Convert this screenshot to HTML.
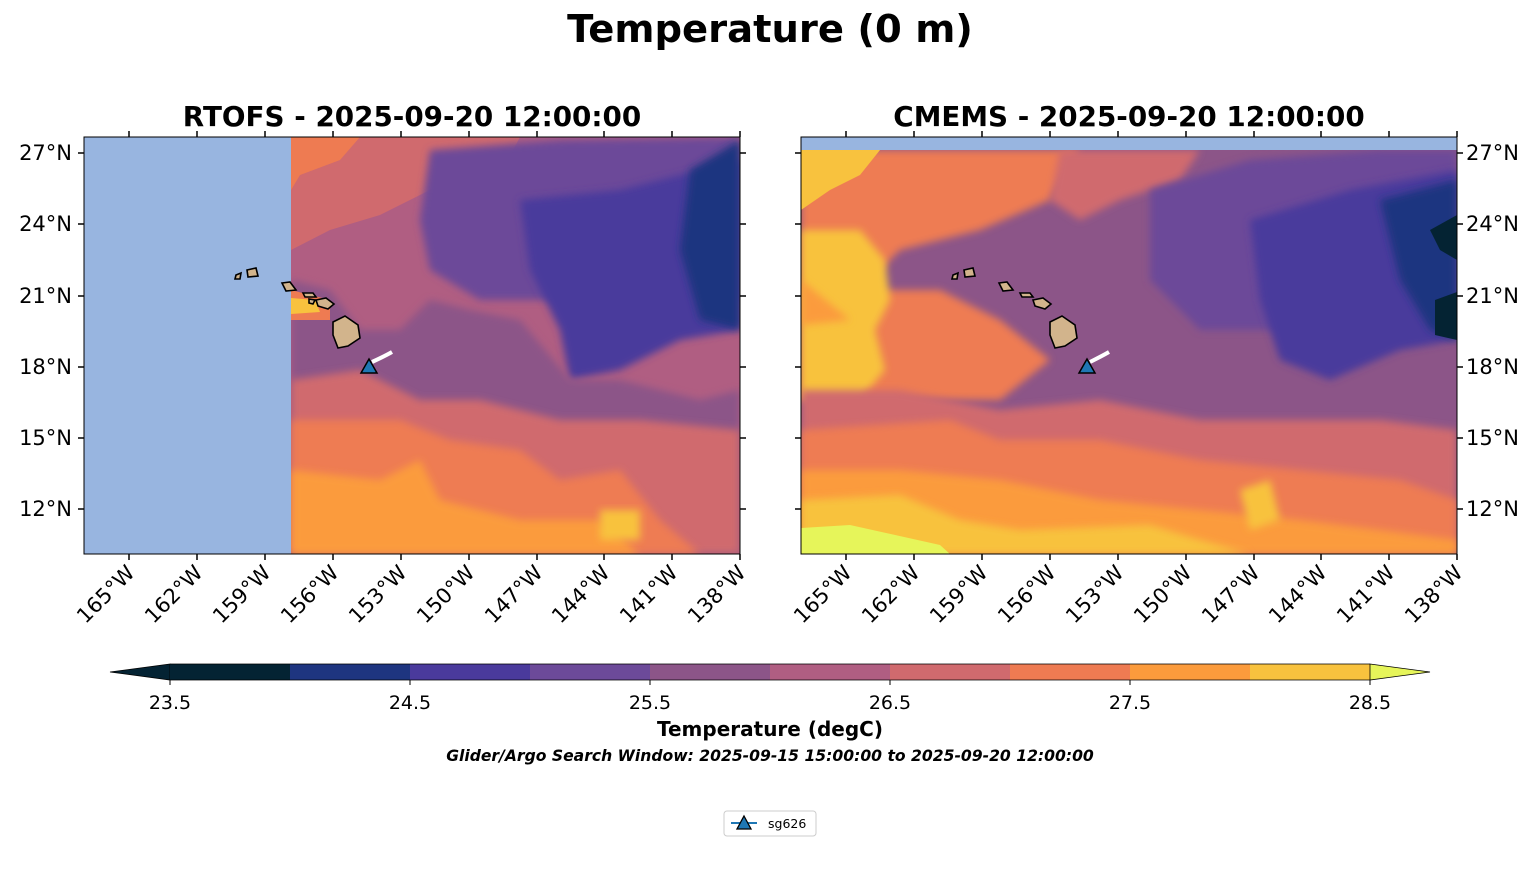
<!DOCTYPE html>
<html><head><meta charset="utf-8"><style>
body{margin:0;background:#fff;width:1540px;height:889px;overflow:hidden;font-family:"DejaVu Sans","Liberation Sans",sans-serif}
svg{display:block}
</style></head><body>
<svg width="1540" height="889" viewBox="0 0 1540 889" xmlns="http://www.w3.org/2000/svg" font-family="DejaVu Sans, Liberation Sans, sans-serif">
<defs>
<filter id="b" x="-20%" y="-20%" width="140%" height="140%"><feGaussianBlur stdDeviation="4"/></filter>
<clipPath id="cl"><rect x="291" y="137" width="449" height="417"/></clipPath>
<clipPath id="cr"><rect x="801" y="150" width="656" height="404"/></clipPath>
</defs>
<text x="770" y="42" text-anchor="middle" font-size="38.5" font-weight="bold">Temperature (0 m)</text>
<text x="412" y="126" text-anchor="middle" font-size="27.8" font-weight="bold">RTOFS - 2025-09-20 12:00:00</text>
<text x="1129" y="126" text-anchor="middle" font-size="27.8" font-weight="bold">CMEMS - 2025-09-20 12:00:00</text>

<!-- LEFT MAP -->
<rect x="84" y="137" width="656" height="417" fill="#98b5e0"/>
<g clip-path="url(#cl)">
<rect x="291" y="137" width="449" height="417" fill="#b05e82"/>
<path d="M291 137H520L500 175L430 190L380 215L330 230L291 250Z" fill="#d06a6e"/>
<path d="M291 137H360L340 160L300 175L291 190Z" fill="#ee7b52"/>
<path d="M430 150L560 140L740 137V300L640 290L560 300L480 300L430 270L420 220Z" fill="#6c4a99" filter="url(#b)"/>
<path d="M520 200L620 190L700 170L740 160V330L680 340L620 370L570 380L560 330L530 270Z" fill="#4a3a9c" filter="url(#b)"/>
<path d="M690 170L740 140V330L700 320L680 250Z" fill="#1e3580" filter="url(#b)"/>
<path d="M291 280L330 290L360 330L400 330L430 300L470 310L520 320L570 380L620 380L700 400L740 390V554H291Z" fill="#8c5588" filter="url(#b)"/>
<path d="M291 380L360 370L420 400L480 400L560 420L640 420L740 430V554H291Z" fill="#d06a6e" filter="url(#b)"/>
<path d="M291 420L400 420L450 440L520 450L560 480L620 470L660 520L700 554H291Z" fill="#ee7b52" filter="url(#b)"/>
<path d="M291 470L380 480L420 460L440 500L520 520L600 520L640 554H291Z" fill="#fb9b3c" filter="url(#b)"/>
<path d="M291 290L330 300L330 320L291 320Z" fill="#ee7b52"/>
<path d="M291 298L315 300L320 312L291 314Z" fill="#f8c23e"/>
<rect x="600" y="510" width="40" height="30" fill="#f8c23e" filter="url(#b)"/>
</g>
<g fill="#d2b48c" stroke="#000" stroke-width="1.6">
<path d="M333 322L345 316L358 325L360 338L348 346L338 348L333 335Z"/>
<path d="M316 300L326 298L334 304L328 309L318 306Z"/>
<path d="M303 293L313 293L316 297L305 297Z"/>
<path d="M282 283L290 282L296 290L286 291Z"/>
<path d="M247 270L256 268L258 276L248 277Z"/>
<path d="M236 275L241 273L240 279L235 279Z"/>
<path d="M309 299L315 300L313 304L309 303Z"/>
</g>
<path d="M372 362Q385 356 392 352" stroke="#fff" stroke-width="4" fill="none"/>
<path d="M369 359L377 373H361Z" fill="#1f77b4" stroke="#000" stroke-width="1.5"/>
<rect x="84" y="137" width="656" height="417" fill="none" stroke="#000" stroke-width="1"/>

<!-- RIGHT MAP -->
<rect x="801" y="137" width="656" height="417" fill="#98b5e0"/>
<g clip-path="url(#cr)">
<rect x="801" y="150" width="656" height="404" fill="#8c5588"/>
<path d="M801 150H1080L1050 200L980 230L900 250L860 290L940 290L1000 320L1050 360L1000 400L900 400L801 400Z" fill="#ee7b52" filter="url(#b)"/>
<path d="M801 150H880L860 175L830 190L801 210Z" fill="#f8c23e"/>
<path d="M801 230L860 230L885 260L890 300L875 330L885 370L860 400L801 400Z" fill="#f8c23e" filter="url(#b)"/>
<path d="M801 280L850 320L801 325Z" fill="#fb9b3c" filter="url(#b)"/>
<path d="M1060 150H1200L1180 180L1120 200L1080 220L1050 200Z" fill="#d06a6e" filter="url(#b)"/>
<path d="M1150 190L1250 160L1380 150L1457 150V330L1400 340L1300 330L1200 330L1150 280Z" fill="#6c4a99" filter="url(#b)"/>
<path d="M1250 220L1350 190L1457 170V340L1400 350L1330 380L1280 360L1260 300Z" fill="#4a3a9c" filter="url(#b)"/>
<path d="M1380 200L1457 180V340L1430 330L1400 280Z" fill="#1e3580" filter="url(#b)"/>
<path d="M1430 230L1457 215V260L1440 250Z" fill="#042333"/>
<path d="M1435 300L1457 292V340L1435 335Z" fill="#042333"/>
<path d="M801 390L900 390L1000 410L1100 400L1200 420L1300 420L1380 420L1457 430V554H801Z" fill="#d06a6e" filter="url(#b)"/>
<path d="M801 430L950 420L1000 440L1100 440L1200 460L1300 470L1400 480L1457 500V554H801Z" fill="#ee7b52" filter="url(#b)"/>
<path d="M801 470L900 470L1000 480L1100 500L1200 510L1300 520L1380 530L1457 540V554H801Z" fill="#fb9b3c" filter="url(#b)"/>
<path d="M801 500L900 495L960 520L1020 530L1150 525L1200 540L1250 554H801Z" fill="#f8c23e" filter="url(#b)"/>
<path d="M801 528L850 525L940 545L950 554H801Z" fill="#e6f55a"/>
<path d="M1240 490L1270 480L1280 520L1250 530Z" fill="#f8c23e" filter="url(#b)"/>
</g>
<g fill="#d2b48c" stroke="#000" stroke-width="1.6">
<path d="M1050 322L1062 316L1075 325L1077 338L1065 346L1055 348L1050 335Z"/>
<path d="M1033 300L1043 298L1051 304L1045 309L1035 306Z"/>
<path d="M1020 293L1030 293L1033 297L1022 297Z"/>
<path d="M999 283L1007 282L1013 290L1003 291Z"/>
<path d="M964 270L973 268L975 276L965 277Z"/>
<path d="M953 275L958 273L957 279L952 279Z"/>
</g>
<path d="M1090 362Q1102 356 1109 352" stroke="#fff" stroke-width="4" fill="none"/>
<path d="M1087 359L1095 373H1079Z" fill="#1f77b4" stroke="#000" stroke-width="1.5"/>
<rect x="801" y="137" width="656" height="417" fill="none" stroke="#000" stroke-width="1"/>

<g stroke="#000" stroke-width="1.5">
<path d="M129 554v6M197 554v6M265 554v6M333 554v6M401 554v6M469 554v6M537 554v6M604 554v6M672 554v6M740 554v6"/>
<path d="M129 137v-6M197 137v-6M265 137v-6M333 137v-6M401 137v-6M469 137v-6M537 137v-6M604 137v-6M672 137v-6M740 137v-6"/>
<path d="M846 554v6M914 554v6M982 554v6M1050 554v6M1118 554v6M1186 554v6M1254 554v6M1321 554v6M1389 554v6M1457 554v6"/>
<path d="M846 137v-6M914 137v-6M982 137v-6M1050 137v-6M1118 137v-6M1186 137v-6M1254 137v-6M1321 137v-6M1389 137v-6M1457 137v-6"/>
<path d="M84 153h-6M84 224h-6M84 296h-6M84 367h-6M84 438h-6M84 509h-6M740 153h6M740 224h6M740 296h6M740 367h6M740 438h6M740 509h6"/>
<path d="M801 153h-6M801 224h-6M801 296h-6M801 367h-6M801 438h-6M801 509h-6M1457 153h6M1457 224h6M1457 296h6M1457 367h6M1457 438h6M1457 509h6"/>
</g>
<g font-size="21" text-anchor="end">
<text x="72" y="160">27°N</text><text x="72" y="231">24°N</text><text x="72" y="303">21°N</text><text x="72" y="374">18°N</text><text x="72" y="445">15°N</text><text x="72" y="516">12°N</text>
</g>
<g font-size="21">
<text x="1466" y="160">27°N</text><text x="1466" y="231">24°N</text><text x="1466" y="303">21°N</text><text x="1466" y="374">18°N</text><text x="1466" y="445">15°N</text><text x="1466" y="516">12°N</text>
</g>
<g font-size="21" text-anchor="end">
<text transform="translate(136,574) rotate(-45)">165°W</text>
<text transform="translate(204,574) rotate(-45)">162°W</text>
<text transform="translate(272,574) rotate(-45)">159°W</text>
<text transform="translate(340,574) rotate(-45)">156°W</text>
<text transform="translate(408,574) rotate(-45)">153°W</text>
<text transform="translate(476,574) rotate(-45)">150°W</text>
<text transform="translate(544,574) rotate(-45)">147°W</text>
<text transform="translate(611,574) rotate(-45)">144°W</text>
<text transform="translate(679,574) rotate(-45)">141°W</text>
<text transform="translate(747,574) rotate(-45)">138°W</text>
<text transform="translate(853,574) rotate(-45)">165°W</text>
<text transform="translate(921,574) rotate(-45)">162°W</text>
<text transform="translate(989,574) rotate(-45)">159°W</text>
<text transform="translate(1057,574) rotate(-45)">156°W</text>
<text transform="translate(1125,574) rotate(-45)">153°W</text>
<text transform="translate(1193,574) rotate(-45)">150°W</text>
<text transform="translate(1261,574) rotate(-45)">147°W</text>
<text transform="translate(1328,574) rotate(-45)">144°W</text>
<text transform="translate(1396,574) rotate(-45)">141°W</text>
<text transform="translate(1464,574) rotate(-45)">138°W</text>
</g>

<path d="M170 664L110 672L170 680Z" fill="#042333" stroke="#000" stroke-width="0.8"/>
<rect x="170" y="664" width="120" height="16" fill="#042333"/>
<rect x="290" y="664" width="120" height="16" fill="#1e3580"/>
<rect x="410" y="664" width="120" height="16" fill="#4a3a9c"/>
<rect x="530" y="664" width="120" height="16" fill="#6c4a99"/>
<rect x="650" y="664" width="120" height="16" fill="#8c5588"/>
<rect x="770" y="664" width="120" height="16" fill="#b05e82"/>
<rect x="890" y="664" width="120" height="16" fill="#d06a6e"/>
<rect x="1010" y="664" width="120" height="16" fill="#ee7b52"/>
<rect x="1130" y="664" width="120" height="16" fill="#fb9b3c"/>
<rect x="1250" y="664" width="120" height="16" fill="#f8c23e"/>
<path d="M1370 664L1430 672L1370 680Z" fill="#e6f55a" stroke="#000" stroke-width="0.8"/>
<path d="M170 664H1370M170 680H1370" stroke="#000" stroke-width="0.8"/>
<g stroke="#000" stroke-width="1"><path d="M170 680v5M410 680v5M650 680v5M890 680v5M1130 680v5M1370 680v5"/></g>
<g font-size="19" text-anchor="middle">
<text x="170" y="709">23.5</text><text x="410" y="709">24.5</text><text x="650" y="709">25.5</text><text x="890" y="709">26.5</text><text x="1130" y="709">27.5</text><text x="1370" y="709">28.5</text>
</g>
<text x="770" y="736" text-anchor="middle" font-size="20" font-weight="bold">Temperature (degC)</text>
<text x="770" y="761" text-anchor="middle" font-size="15.6" font-weight="bold" font-style="italic">Glider/Argo Search Window: 2025-09-15 15:00:00 to 2025-09-20 12:00:00</text>

<rect x="724" y="811" width="92" height="25" rx="3" fill="#fff" stroke="#ccc"/>
<path d="M731 823H757" stroke="#1f77b4" stroke-width="2"/>
<path d="M744 816L751 829H737Z" fill="#1f77b4" stroke="#000" stroke-width="1.3"/>
<text x="768" y="828" font-size="12.5">sg626</text>
</svg>
</body></html>
